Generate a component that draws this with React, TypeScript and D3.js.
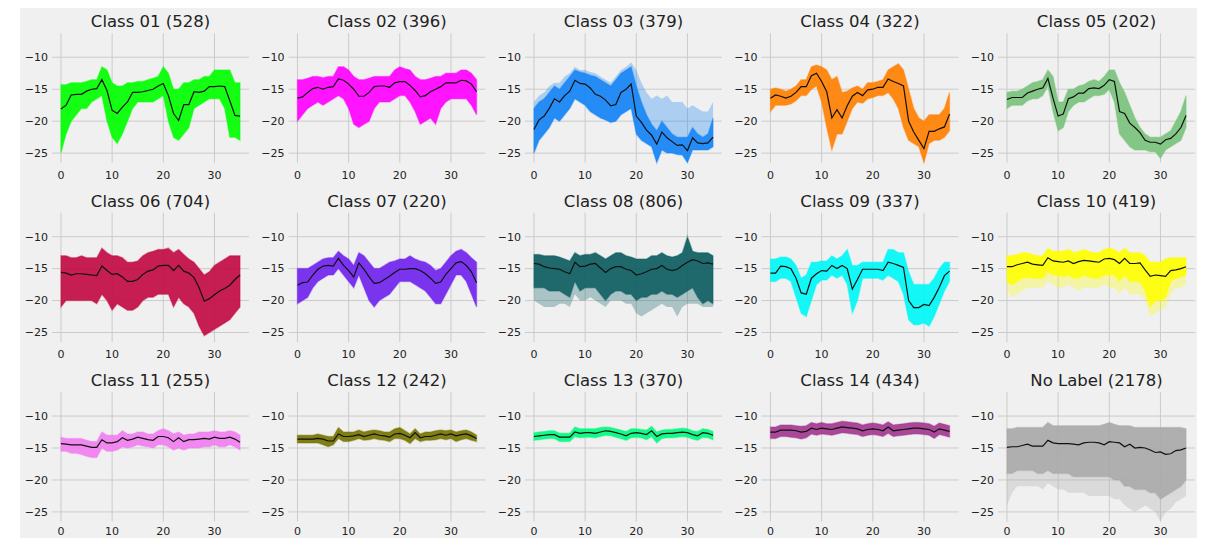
import React from "react";
import * as d3 from "d3";

// panel titles / colours
const titles = ["Class 01", "Class 02", "Class 03", "Class 04", "Class 05", "Class 06", "Class 07", "Class 08", "Class 09", "Class 10", "Class 11", "Class 12", "Class 13", "Class 14", "No Label"];
const counts = [528, 396, 379, 322, 202, 704, 220, 806, 337, 419, 255, 242, 370, 434, 2178];
const colors = ["#00ff00", "#ff00ff", "#1283f5", "#ff8000", "#79c27b", "#c20a43", "#6f22ee", "#0b5c60", "#00f7f7", "#ffff00", "#f07ef0", "#747400", "#00fa7f", "#a2378f", "#a9a9a9"];

const xTicks = [0, 10, 20, 30];
const yTicks = [-10, -15, -20, -25];

// mean line, upper / lower edge of the dense bundle
const c01Mean = [-18.1, -17.5, -15.9, -15.8, -15.8, -15.3, -15.0, -14.9, -13.5, -15.2, -18.3, -18.8, -17.8, -17.0, -15.5, -15.5, -15.4, -15.2, -15.0, -14.5, -14.1, -16.0, -18.8, -19.9, -17.4, -17.4, -15.4, -15.5, -15.3, -14.6, -14.6, -14.5, -14.6, -16.8, -19.1, -19.2];
const c01Hi = [-14.3, -14.3, -14, -14, -14, -13.8, -13.5, -13.5, -11.5, -12, -14, -14.5, -14.5, -14, -14, -13.8, -13.8, -13.5, -13.3, -13, -11.5, -12.5, -15, -15, -14, -14, -13.5, -13.5, -13, -13, -12, -12, -12, -12, -14, -14];
const c01Lo = [-25, -22, -20, -19, -18, -18, -17, -16.5, -16, -20, -22.5, -23.5, -22, -20, -18, -17, -17, -17, -17, -16.5, -16, -20, -22.5, -23, -22, -21, -18, -17.5, -17, -16.5, -16.5, -16.5, -18, -22.5, -22.5, -23];

const c02Mean = [-16.4, -16.2, -15.5, -14.9, -14.7, -15.0, -14.7, -14.6, -13.4, -13.6, -14.2, -15.0, -16.1, -16.1, -15.5, -14.6, -14.5, -14.5, -14.7, -14.0, -13.8, -13.8, -14.4, -15.2, -16.2, -16.0, -15.4, -15.0, -14.6, -14.0, -14.0, -14.0, -13.6, -13.7, -14.2, -15.4];
const c02Hi = [-13.5, -13.5, -13.3, -13, -13, -13.2, -13, -13, -11.5, -11.5, -12, -13, -13.5, -13.5, -13.3, -13, -13, -13, -13, -12, -11.5, -11.8, -12, -13, -13.5, -13.5, -13.3, -13, -13, -12.5, -12.5, -12.5, -12, -12, -12.5, -13.5];
const c02Lo = [-20, -19, -18, -17.5, -17, -17.5, -17, -16.5, -16, -16.5, -18, -20.5, -21, -20.5, -20, -18, -17, -17, -17, -16.5, -16, -16, -17, -18.5, -20.5, -20, -19.5, -20.5, -18, -17, -16.5, -16.5, -16.5, -16.5, -17.5, -19];

const c03Mean = [-21.3, -19.8, -19.2, -18.0, -16.5, -17.0, -16.0, -15.3, -13.6, -14.1, -14.2, -14.8, -15.8, -16.1, -16.7, -17.6, -17.4, -15.5, -15.0, -14.2, -19.2, -20.2, -21.4, -22.2, -23.6, -21.7, -22.6, -23.2, -23.8, -23.7, -24.6, -22.6, -23.4, -23.5, -23.4, -22.5];
const c03Hi = [-18, -17, -16.5, -15.5, -14.5, -15, -14, -13, -12, -12.3, -12.5, -12.8, -13, -13.5, -14, -14.5, -13.5, -12.5, -12, -11.5, -14.5, -17, -19, -20.5, -21.5, -20, -21, -22, -22.5, -22.5, -22.5, -21, -22, -22.5, -22, -19.5];
const c03Lo = [-25, -23, -22, -21, -19.5, -20, -19, -18, -16.5, -17, -17.5, -18.5, -19, -19.5, -19.8, -20.2, -20, -19, -18.5, -18, -22, -23, -23.5, -24, -26.5, -24.5, -25, -25, -25.2, -25.3, -26.5, -24.5, -24.5, -24.5, -24.5, -24];
const c03FaintHi = [-17, -16, -15.5, -14.5, -14, -14, -13, -12.5, -11.5, -12, -12, -12.3, -12.5, -13, -13.5, -14, -13, -12, -11.5, -10.8, -12, -14, -15.5, -16.5, -16, -16.5, -16, -17, -17, -17, -18, -17.5, -18, -18.5, -18.5, -17];

const c04Mean = [-16.4, -15.9, -16.1, -16.4, -16.1, -15.5, -14.6, -14.6, -12.9, -12.5, -13.8, -15.4, -19.5, -18.2, -19.5, -17.6, -16.1, -15.5, -16.0, -15.1, -15.0, -14.7, -14.7, -13.4, -13.8, -14.1, -14.5, -20.0, -21.7, -23.0, -24.3, -21.6, -21.6, -21.2, -20.9, -18.9];
const c04Hi = [-15, -14.8, -15, -15.3, -15, -14.5, -13.5, -13.5, -11.5, -11.2, -11.5, -12, -13.5, -13, -15.5, -15.3, -14.8, -14.5, -15, -14, -14, -13.8, -13.5, -12, -11.5, -11, -12, -15, -18, -19.5, -20, -19, -19, -19, -18, -15.5];
const c04Lo = [-18.5, -17.5, -17.5, -17.5, -17.3, -16.8, -16, -16, -15, -14.5, -17, -21, -24.5, -22, -22, -20, -18, -17, -17.2, -16.5, -16.3, -16, -16, -15.5, -16.5, -18, -21, -23, -23.5, -24, -26.5, -23.5, -23, -23, -22.5, -21.5];

const c05Mean = [-16.6, -16.3, -16.3, -16.3, -15.6, -15.3, -15.0, -14.8, -13.3, -16.4, -19.2, -18.9, -16.5, -16.2, -15.6, -15.6, -14.9, -14.8, -14.9, -14.4, -13.5, -13.8, -18.5, -18.8, -20.3, -21.0, -21.8, -23.0, -23.3, -23.3, -23.6, -22.9, -22.7, -22.0, -21.0, -19.1];
const c05Hi = [-15.5, -15.3, -15.3, -15, -14.5, -14, -13.8, -13.5, -12, -13, -17, -17, -15, -15, -14.5, -14.3, -13.8, -13.5, -13.8, -13, -12, -12, -14, -15.5, -17.5, -19.5, -21, -22, -22.5, -22.5, -22.5, -22, -21.5, -20, -18.5, -16];
const c05Lo = [-18, -17.5, -17.5, -17.5, -16.8, -16.5, -16.5, -16, -14.5, -18.5, -21.5, -21, -18.5, -17.5, -17, -17, -16.5, -16, -16, -15.8, -15, -17, -22, -23, -24, -24.5, -24.5, -24.5, -24.8, -24.8, -25.8, -24.5, -24, -23.5, -23, -21];

const c06Mean = [-15.6, -15.7, -16.0, -15.8, -15.8, -15.9, -16.0, -16.1, -14.6, -15.3, -15.9, -15.8, -16.3, -17.0, -17.0, -16.7, -15.9, -15.4, -15.2, -14.6, -14.5, -14.5, -15.3, -14.5, -15.4, -15.7, -16.4, -18.0, -20.1, -19.7, -19.1, -18.5, -18.1, -17.6, -16.7, -16.0];
const c06Hi = [-13, -13, -13.3, -13.3, -13, -13.3, -13.3, -13.3, -11.8, -12.5, -13, -13, -13.3, -14, -14, -13.8, -13, -12.5, -12.3, -12, -12, -11.8, -12.5, -12, -12.8, -13.5, -14, -15, -16, -15.5, -14.5, -14, -13.5, -13, -13, -13];
const c06Lo = [-21, -20, -20, -20, -20, -20, -20, -20.5, -19, -20, -21.5, -20.5, -21, -21.5, -21.5, -21, -20, -19.5, -19.5, -19, -19, -19, -21, -19.5, -20.5, -21, -22, -24, -25.5, -25, -24.5, -24, -23.5, -23, -22, -21];

const c07Mean = [-17.6, -17.2, -17.1, -16.0, -15.1, -14.6, -14.5, -14.6, -13.4, -14.5, -15.3, -16.3, -14.1, -15.1, -16.3, -17.3, -17.2, -16.7, -16.2, -15.6, -15.1, -15.1, -15.0, -15.0, -15.3, -15.8, -16.5, -17.3, -17.1, -15.9, -15.0, -14.1, -13.9, -14.5, -15.5, -17.2];
const c07Hi = [-15, -15, -15, -14.5, -14, -13.5, -13.3, -13.3, -12.3, -13, -13.5, -14.5, -12.5, -13, -14, -15, -15, -14.5, -14, -13.8, -13.5, -13.5, -13, -13.5, -13.8, -14, -14.5, -15.3, -15, -14, -13, -12.3, -12, -12.5, -13.3, -14];
const c07Lo = [-20.5, -20, -19.5, -18, -17, -16.5, -16, -16, -15, -16, -17, -18, -16, -18, -20, -21, -20, -19.5, -19, -18, -17, -17, -17, -17.5, -18, -18.5, -19.5, -20.5, -20.5, -19, -17.5, -16, -16, -17, -19, -21];

const c08Mean = [-14.2, -14.3, -14.7, -14.9, -15.0, -15.1, -15.5, -15.8, -14.0, -14.7, -14.6, -14.3, -14.2, -14.9, -15.6, -15.0, -14.7, -14.7, -15.1, -15.3, -16.0, -15.8, -15.5, -15.1, -15.0, -14.5, -15.1, -15.3, -15.1, -14.5, -14.0, -13.6, -13.8, -14.2, -14.1, -14.3];
const c08Hi = [-12.8, -12.8, -13, -13, -13, -13.2, -13.5, -13.8, -12.5, -13, -12.8, -12.8, -12.5, -13, -13.5, -13, -12.5, -12.5, -13, -13.2, -13.5, -13.5, -13.5, -13, -13, -12.5, -13, -13.2, -13, -12.5, -10, -12.3, -12.5, -12.5, -12.5, -13];
const c08Lo = [-18, -18, -18, -18.5, -18.5, -18.5, -19, -19.5, -17, -18.5, -18, -18, -18, -19, -20, -19, -18.5, -18.5, -19, -19, -20, -19.5, -19.5, -19, -19, -18.5, -19, -19, -19.5, -19, -18.5, -18, -19.5, -20.5, -20, -20.5];
const c08FaintLo = [-20, -20.5, -21, -21, -21, -20.5, -20.5, -21, -19, -20, -20, -19.5, -20, -20.5, -21, -20, -20, -20, -20.5, -20.5, -22, -22.5, -22, -21.5, -21, -20.5, -21, -21, -22.5, -21, -20.5, -20.5, -20.5, -21, -21, -21];

const c09Mean = [-15.7, -15.7, -14.6, -14.7, -15.0, -16.5, -18.8, -19.0, -16.5, -15.8, -15.3, -15.4, -14.5, -15.0, -14.5, -15.0, -18.2, -16.7, -15.1, -15.1, -15.1, -15.1, -15.3, -14.0, -14.2, -14.5, -14.8, -20.0, -21.1, -21.1, -20.6, -20.8, -19.5, -17.9, -16.1, -15.4];
const c09Hi = [-13.5, -13.5, -13.2, -13.2, -13.5, -14.5, -16.5, -16, -14, -14, -13.8, -13.8, -13, -13.5, -13, -12, -14.5, -14.5, -14, -14, -14, -14, -14, -12, -12, -12.5, -12.5, -15.5, -17.5, -17.5, -17.5, -17.5, -16.5, -15, -14, -14];
const c09Lo = [-17, -17, -16.5, -16.5, -17, -19.5, -22, -22.5, -20, -17.5, -16.8, -16.8, -16, -16.5, -16, -17.5, -22, -20, -16.5, -16.5, -16.5, -16.5, -16.8, -16, -16.5, -17, -19, -23, -23.8, -23.8, -23.5, -24, -22.5, -20.5, -18.5, -17];

const c10Mean = [-14.7, -14.7, -14.4, -14.2, -14.0, -14.3, -14.4, -14.5, -13.3, -13.8, -13.9, -14.0, -13.8, -14.2, -13.9, -13.7, -13.8, -13.9, -14.0, -13.5, -13.4, -13.6, -14.2, -13.4, -14.2, -14.2, -14.1, -15.2, -16.2, -16.0, -16.1, -16.2, -15.3, -15.2, -15.0, -14.7];
const c10Hi = [-13, -13, -12.8, -12.5, -12.5, -12.8, -13, -13, -11.8, -12.3, -12.3, -12.3, -12, -12.5, -12.3, -12, -12.3, -12.5, -12.5, -12, -11.8, -12, -12.5, -11.8, -12.5, -12.5, -12.5, -13, -14, -14, -14, -13.5, -13.3, -13.3, -13.3, -13.3];
const c10Lo = [-17, -17.5, -17, -16.5, -16.3, -16.5, -16.5, -16.5, -15.5, -16, -16, -16.3, -16, -16.5, -16.5, -16, -16.3, -16.5, -16.5, -16, -16, -16, -17, -16, -17, -17, -17, -18.5, -21, -20, -20, -19.5, -17, -16.5, -16.3, -16];
const c10FaintLo = [-18.5, -19.5, -19, -18.5, -18, -18, -18, -18, -17, -17.5, -18, -18, -17.5, -18, -18.5, -18, -18, -18, -18, -17.5, -18, -18, -19, -18, -19, -19, -19, -20, -22.5, -22, -21.5, -21, -19, -18, -18, -17.5];

const c11Mean = [-14.3, -14.4, -14.5, -14.5, -14.5, -14.7, -14.9, -14.9, -13.7, -14.2, -14.2, -14.0, -13.4, -13.8, -13.6, -13.3, -13.5, -13.7, -13.8, -13.2, -13.2, -13.4, -14.0, -13.4, -14.0, -13.7, -13.7, -13.6, -13.5, -13.6, -13.3, -13.5, -13.5, -13.3, -13.6, -14.1];
const c11Hi = [-13.3, -13.5, -13.5, -13.5, -13.5, -13.8, -14, -14, -12.5, -13, -13, -13, -12.3, -12.8, -12.8, -12.5, -12.5, -12.8, -12.8, -12.3, -12, -12.3, -12.8, -12.5, -13, -12.8, -12.8, -12.5, -12.5, -12.5, -12.3, -12.5, -12.5, -12.3, -12.5, -13];
const c11Lo = [-15.5, -15.5, -15.8, -15.8, -16, -16.3, -16.5, -16.5, -15, -15.5, -15.5, -15.3, -14.8, -15, -14.8, -14.5, -14.7, -14.8, -15, -14.5, -14.5, -14.8, -15.3, -15, -15.3, -15, -15, -15, -14.8, -14.8, -14.5, -14.8, -14.8, -14.5, -14.8, -15.3];

const c12Mean = [-13.6, -13.6, -13.6, -13.6, -13.5, -13.6, -13.9, -13.9, -12.8, -13.2, -13.2, -13.1, -12.9, -13.2, -13.0, -12.8, -13.0, -13.1, -13.3, -12.8, -12.7, -13.0, -13.4, -12.6, -13.4, -13.2, -13.2, -13.0, -12.8, -13.0, -12.8, -13.1, -12.9, -12.8, -13.1, -13.5];
const c12Hi = [-13, -13, -13, -13, -12.8, -13, -13.2, -13.2, -11.8, -12.5, -12.5, -12.5, -12.2, -12.5, -12.3, -12.2, -12.3, -12.5, -12.5, -12, -11.8, -12.3, -12.8, -12, -12.8, -12.5, -12.5, -12.3, -12.2, -12.3, -12.2, -12.5, -12.3, -12.2, -12.5, -13];
const c12Lo = [-14.2, -14.2, -14.2, -14.2, -14.2, -14.5, -14.8, -14.5, -13.5, -14, -14, -13.8, -13.5, -13.8, -13.7, -13.5, -13.7, -13.8, -14, -13.5, -13.5, -13.8, -14.3, -13.5, -14, -13.8, -13.8, -13.7, -13.5, -13.7, -13.5, -14, -13.7, -13.5, -13.8, -14];

const c13Mean = [-13.2, -13.1, -13.0, -12.9, -12.9, -13.3, -13.3, -13.3, -12.5, -12.7, -12.6, -12.6, -12.7, -12.5, -12.3, -12.4, -12.6, -12.8, -13.1, -12.7, -12.6, -12.7, -12.9, -12.3, -13.2, -12.8, -12.7, -12.7, -12.6, -12.5, -12.6, -12.9, -13.1, -12.6, -12.7, -13.0];
const c13Hi = [-12.6, -12.5, -12.4, -12.3, -12.3, -12.7, -12.7, -12.7, -11.7, -12, -12, -12, -12, -11.8, -11.7, -11.8, -12, -12.2, -12.4, -12, -12, -12.1, -12.2, -11.6, -12.5, -12.2, -12.1, -12.1, -12, -11.9, -12, -12.3, -12.4, -12, -12.1, -12.4];
const c13Lo = [-13.8, -13.7, -13.6, -13.5, -13.5, -14, -14, -14, -13.2, -13.4, -13.3, -13.3, -13.4, -13.2, -13, -13.1, -13.3, -13.5, -13.8, -13.4, -13.3, -13.4, -13.7, -13.2, -14.2, -13.5, -13.4, -13.4, -13.3, -13.2, -13.3, -13.6, -13.8, -13.3, -13.4, -13.7];

const c14Mean = [-12.5, -12.5, -12.2, -12.2, -12.2, -12.3, -12.5, -12.4, -11.9, -12.1, -11.9, -12.0, -12.1, -11.9, -11.7, -11.8, -11.9, -12.0, -12.3, -12.1, -12.0, -12.1, -12.3, -11.7, -12.3, -12.2, -12.1, -12.0, -11.9, -11.9, -12.0, -12.1, -12.5, -12.0, -12.2, -12.4];
const c14Hi = [-11.7, -11.7, -11.4, -11.4, -11.4, -11.5, -11.6, -11.5, -11, -11.2, -11, -11.2, -11.2, -11, -10.8, -10.9, -11, -11.1, -11.4, -11.2, -11.1, -11.2, -11.4, -10.9, -11.4, -11.3, -11.2, -11.1, -11, -11, -11.1, -11.2, -11.6, -11.1, -11.3, -11.5];
const c14Lo = [-13.5, -13.5, -13.2, -13.2, -13.3, -13.4, -13.6, -13.4, -12.8, -13, -12.8, -12.9, -13, -12.8, -12.6, -12.7, -12.8, -12.9, -13.2, -13, -12.9, -13, -13.2, -12.7, -13.2, -13.1, -13, -12.9, -12.8, -12.8, -12.9, -13, -13.5, -12.9, -13.1, -13.3];

const noLabelMean = [-14.9, -14.8, -14.8, -14.6, -14.4, -14.7, -14.7, -14.7, -13.8, -14.2, -14.3, -14.3, -14.3, -14.4, -14.5, -14.2, -14.1, -14.1, -14.2, -14.5, -14.0, -14.1, -14.2, -14.8, -14.4, -15.0, -14.9, -15.0, -15.3, -15.7, -15.6, -16.0, -15.9, -15.4, -15.3, -15.0];
const noLabelHi = [-12, -12, -11.8, -11.8, -11.8, -11.8, -11.8, -11.8, -11, -11.5, -11.5, -11.5, -11.5, -11.5, -11.5, -11.5, -11.5, -11.5, -11.5, -11.3, -11, -11.3, -11.5, -11.5, -11.5, -11.8, -11.8, -11.8, -11.8, -11.8, -11.8, -11.8, -11.8, -11.8, -11.8, -12];
const noLabelLo = [-19, -19, -18.5, -18.5, -18.5, -18.5, -19, -19, -18.5, -19, -19, -19, -19, -19.5, -19.5, -19.5, -19.5, -19.5, -19.5, -19.5, -19.5, -20, -20, -21, -21, -21.5, -21.5, -21.5, -22, -22, -23, -22.5, -22, -21.5, -21, -20];
const noLabelFaintLo = [-24, -22, -21, -21, -21, -21, -21, -21.5, -20.5, -21, -21.5, -21.5, -22, -22, -22, -22, -22.5, -22.5, -22.5, -22.5, -22.5, -23, -23, -24, -24.5, -25, -24.5, -24, -24.5, -25, -26.5, -25, -24.5, -23.5, -23, -22.5];

const means = [c01Mean, c02Mean, c03Mean, c04Mean, c05Mean, c06Mean, c07Mean, c08Mean, c09Mean, c10Mean, c11Mean, c12Mean, c13Mean, c14Mean, noLabelMean];
const highs = [c01Hi, c02Hi, c03Hi, c04Hi, c05Hi, c06Hi, c07Hi, c08Hi, c09Hi, c10Hi, c11Hi, c12Hi, c13Hi, c14Hi, noLabelHi];
const lows = [c01Lo, c02Lo, c03Lo, c04Lo, c05Lo, c06Lo, c07Lo, c08Lo, c09Lo, c10Lo, c11Lo, c12Lo, c13Lo, c14Lo, noLabelLo];
// sparse outliers: only some panels have them
const faintHighs = { 2: c03FaintHi };
const faintLows = { 7: c08FaintLo, 9: c10FaintLo, 14: noLabelFaintLo };

const W = 1207;
const H = 538;
const colStep = 236.5;
const rowStep = 179.4;
const axW = 197;
const axH = 129.4;
const font = "DejaVu Sans, sans-serif";

function Panel({ i }: { i: number }) {
  const col = i % 5;
  const row = Math.floor(i / 5);
  const left = 52 + col * colStep;
  const top = 33.3 + row * rowStep;
  const x = d3.scaleLinear().domain([-1.75, 36.75]).range([left, left + axW]);
  const y = d3.scaleLinear().domain([-26.5, -6.25]).range([top + axH, top]);

  const mean = means[i];
  const hi = highs[i];
  const lo = lows[i];
  const fhi = faintHighs[i] || hi;
  const flo = faintLows[i] || lo;

  const band = (up: number[], down: number[]) =>
    d3.area<number>()
      .x((_, k) => x(k))
      .y0((_, k) => y(down[k]))
      .y1((_, k) => y(up[k]))(up);
  const line = d3.line<number>().x((_, k) => x(k)).y(d => y(d));
  const tickY = Math.min(top + axH + 16, H - 3);

  return (
    <g>
      {xTicks.map(t => (
        <line key={"gx" + t} x1={x(t)} x2={x(t)} y1={top} y2={top + axH} stroke="#cbcbcb" strokeWidth={1} />
      ))}
      {yTicks.map(t => (
        <line key={"gy" + t} x1={left} x2={left + axW} y1={y(t)} y2={y(t)} stroke="#cbcbcb" strokeWidth={1} />
      ))}
      <path d={band(fhi, flo) || ""} fill={colors[i]} opacity={0.3} />
      <path d={band(hi, lo) || ""} fill={colors[i]} fillOpacity={0.88} stroke={colors[i]} strokeOpacity={0.35} strokeWidth={1.5} />
      <path d={line(mean) || ""} fill="none" stroke="#111" strokeWidth={1.2} />
      {xTicks.map(t => (
        <text key={"tx" + t} x={x(t)} y={tickY} textAnchor="middle" fontSize={11} fill="#222" fontFamily={font}>{t}</text>
      ))}
      {yTicks.map(t => (
        <text key={"ty" + t} x={left - 4} y={y(t)} dy="0.35em" textAnchor="end" fontSize={11} fill="#222" fontFamily={font}>{"\u2212" + Math.abs(t)}</text>
      ))}
      <text x={left + axW / 2} y={top - 6} textAnchor="middle" fontSize={16.5} fill="#222" fontFamily={font}>
        {`${titles[i]} (${counts[i]})`}
      </text>
    </g>
  );
}

export default function App() {
  return (
    <svg width={W} height={H} style={{ position: "absolute", left: 0, top: 0, background: "#fff" }}>
      <rect x={20} y={8} width={1177} height={530} fill="#f0f0f0" />
      {titles.map((_, i) => <Panel key={i} i={i} />)}
    </svg>
  );
}
